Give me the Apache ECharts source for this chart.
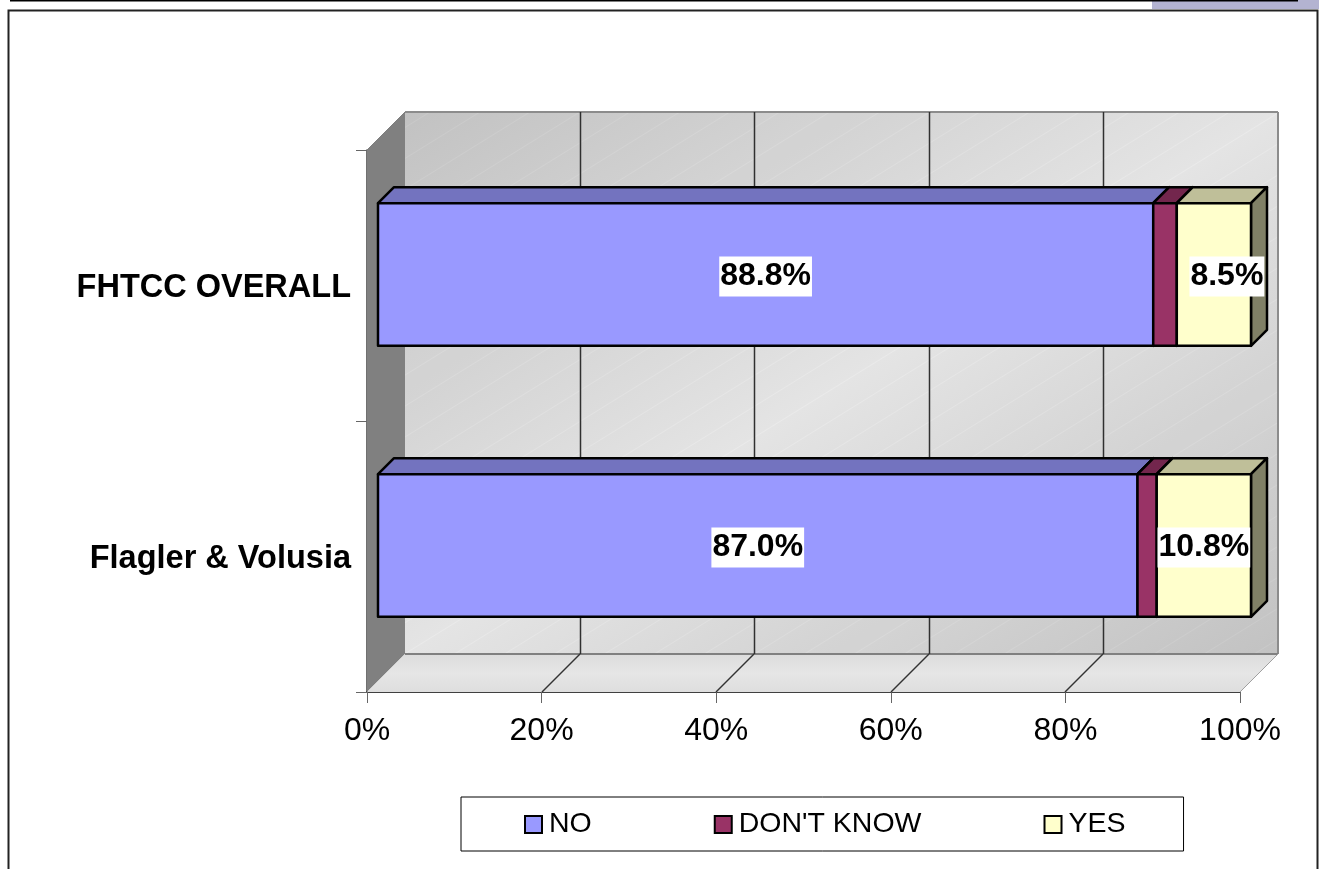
<!DOCTYPE html>
<html>
<head>
<meta charset="utf-8">
<title>FHTCC chart</title>
<style>
  html, body { margin: 0; padding: 0; background: #fff; overflow: hidden; }
  #main { width: 1319px; height: 869px; }
</style>
<script src="https://cdn.jsdelivr.net/npm/echarts@6/dist/echarts.min.js"></script>
</head>
<body>
<div id="main"></div>
<script>
var categories = ['FHTCC OVERALL', 'Flagler & Volusia'];
var noValues = [88.8, 87.0];
var dontKnowValues = [2.7, 2.2];
var yesValues = [8.5, 10.8];
var xTicks = [0, 20, 40, 60, 80, 100];

var FONT = '"Liberation Sans", Arial, sans-serif';
var WALL = 38;      // depth of the whole 3d box
var BAR_FRONT = 11; // gap between the box front and the bar front
var BAR_DEPTH = 16;

// light band runs bottom-left to top-right, with faint hatch lines across it
function wallStops() {
    var stops = [], count = 35, i;
    function grey(t) {
        return Math.round(0xc2 + (0xe4 - 0xc2) * (1 - Math.abs(2 * t - 1)));
    }
    function css(c) { return 'rgb(' + c + ',' + c + ',' + c + ')'; }
    for (i = 0; i < count; i++) {
        var a = i / count, b = (i + 1) / count, mid = (a + b) / 2;
        stops.push({ offset: a, color: css(grey(a)) });
        stops.push({ offset: mid - 0.001, color: css(grey(mid)) });
        stops.push({ offset: mid, color: css(Math.min(grey(mid) + 6, 255)) });
        stops.push({ offset: mid + 0.001, color: css(grey(mid)) });
    }
    stops.push({ offset: 1, color: css(grey(1)) });
    return stops;
}

// color.lift only ever lightens, so darken by hand
function darken(color, k) {
    var c = echarts.color.parse(color);
    return 'rgb(' + Math.round(c[0] * k) + ',' + Math.round(c[1] * k) + ',' + Math.round(c[2] * k) + ')';
}

function poly(points, fill, stroke, width) {
    return {
        type: 'polygon',
        shape: { points: points },
        style: { fill: fill, stroke: stroke || null, lineWidth: width || 0, lineJoin: 'round' }
    };
}

function line(x1, y1, x2, y2, color, width) {
    return {
        type: 'line',
        shape: { x1: x1, y1: y1, x2: x2, y2: y2 },
        style: { stroke: color, lineWidth: width || 1 }
    };
}

function renderFrame(params, api) {
    var c = params.coordSys;
    var l = c.x, t = c.y, r = c.x + c.width, b = c.y + c.height;
    var wallGrad = new echarts.graphic.LinearGradient(l + WALL, t - WALL, 890, 895, wallStops(), true);
    var floorGrad = new echarts.graphic.LinearGradient(0, 0, 0, 1, [
        { offset: 0, color: '#dcdcdc' },
        { offset: 0.5, color: '#e6e6e6' },
        { offset: 1, color: '#dedede' }
    ]);
    var children = [
        poly([[l + WALL, t - WALL], [r + WALL, t - WALL], [r + WALL, b - WALL], [l + WALL, b - WALL]], wallGrad),
        poly([[l, t], [l + WALL, t - WALL], [l + WALL, b - WALL], [l, b]], '#808080'),
        poly([[l, b], [l + WALL, b - WALL], [r + WALL, b - WALL], [r, b]], floorGrad),
        line(l, t, l + WALL, t - WALL, '#808080', 1),
        line(l + WALL, t - WALL, r + WALL, t - WALL, '#8c8c8c', 2),
        line(r + WALL, t - WALL, r + WALL, b - WALL, '#8c8c8c', 2),
        line(l + WALL, b - WALL, r + WALL, b - WALL, '#808080', 2),
        line(r + WALL, b - WALL, r, b, '#a0a0a0', 1)
    ];
    xTicks.slice(1, -1).forEach(function (v) {
        var x = Math.round(api.coord([v, 0])[0]);
        children.push(line(x + WALL + 0.5, t - WALL, x + WALL + 0.5, b - WALL, '#303030', 1.5));
        children.push(line(x + WALL, b - WALL, x, b, '#333333', 1.5));
    });
    return { type: 'group', children: children };
}

function renderBar(params, api) {
    var start = api.value(0), size = api.value(1), cat = api.value(2);
    var color = api.visual('color');
    var h = api.size([0, 1])[1] / 1.9;
    var cy = api.coord([0, cat])[1] - BAR_FRONT;
    var x0 = api.coord([start, cat])[0] + BAR_FRONT;
    var x1 = api.coord([start + size, cat])[0] + BAR_FRONT;
    var y0 = cy - h / 2, y1 = cy + h / 2, d = BAR_DEPTH;
    var children = [
        poly([[x0, y0], [x0 + d, y0 - d], [x1 + d, y0 - d], [x1, y0]], darken(color, 0.75), '#000', 2.5),
        poly([[x1, y0], [x1 + d, y0 - d], [x1 + d, y1 - d], [x1, y1]], darken(color, 0.5), '#000', 2.5),
        poly([[x0, y0], [x1, y0], [x1, y1], [x0, y1]], color, '#000', 2.5)
    ];
    if (api.value(3)) {
        children.push({
            type: 'text',
            style: {
                text: size.toFixed(1) + '%',
                x: (x0 + x1) / 2 + api.value(3) - 1,
                y: cy + 2,
                align: 'center',
                verticalAlign: 'middle',
                fontFamily: FONT,
                fontSize: 32,
                fontWeight: 'bold',
                fill: '#000',
                backgroundColor: '#fff',
                padding: [4, 1, 4, 1]
            }
        });
    }
    return { type: 'group', children: children };
}

// [start, size, category, label shift (0 = no label)]
function stackData(values, below, labelled, shift) {
    return values.map(function (v, i) {
        var start = 0;
        below.forEach(function (arr) { start += arr[i]; });
        return [start, v, i, labelled ? (shift[i] || 1) : 0];
    });
}

function barSeries(name, color, values, below, labelled, shift) {
    return {
        name: name,
        type: 'custom',
        coordinateSystem: 'cartesian2d',
        clip: false,
        renderItem: renderBar,
        itemStyle: { color: color, borderColor: '#000', borderWidth: 2 },
        encode: { x: 0, y: 2 },
        data: stackData(values, below, labelled, shift || [])
    };
}

var myChart = echarts.init(document.getElementById('main'), null, { renderer: 'canvas' });

myChart.setOption({
    animation: false,
    backgroundColor: '#fff',
    grid: { left: 367, top: 150, width: 873, height: 542, containLabel: false },
    xAxis: {
        type: 'value',
        min: 0,
        max: 100,
        interval: 20,
        axisLine: { show: true, lineStyle: { color: '#404040', width: 2 } },
        axisTick: { show: true, length: 11, lineStyle: { color: '#666', width: 1 } },
        splitLine: { show: false },
        axisLabel: {
            formatter: function (v) { return v + '%'; },
            fontFamily: FONT,
            fontSize: 32,
            color: '#000',
            margin: 23
        }
    },
    yAxis: {
        type: 'category',
        inverse: true,
        data: categories,
        axisLine: { show: true, lineStyle: { color: '#404040', width: 1.5 } },
        axisTick: { show: true, length: 11, alignWithLabel: false, lineStyle: { color: '#666', width: 1 } },
        axisLabel: {
            fontFamily: FONT,
            fontSize: 32.5,
            fontWeight: 'bold',
            color: '#000',
            margin: 16,
            verticalAlign: 'top',
            lineHeight: 5
        }
    },
    legend: {
        left: 461,
        top: 797,
        orient: 'horizontal',
        padding: [13, 58, 12, 63],
        backgroundColor: '#fff',
        borderColor: '#000',
        borderWidth: 1,
        borderRadius: 0,
        itemGap: 122,
        itemWidth: 17,
        itemHeight: 17,
        icon: 'rect',
        data: ['NO', "DON'T KNOW", 'YES'],
        textStyle: { fontFamily: FONT, fontSize: 28.5, color: '#000', padding: [0, 0, 0, 2] }
    },
    graphic: [
        { type: 'rect', z: -10, shape: { x: 1152, y: 0, width: 167, height: 9 }, style: { fill: '#b3b3d1' } },
        { type: 'line', z: -9, shape: { x1: 10, y1: 0.5, x2: 1298, y2: 0.5 }, style: { stroke: '#000', lineWidth: 2 } },
        { type: 'polyline', z: -9, shape: { points: [[8.5, 869], [8.5, 10.5], [1317.5, 10.5], [1317.5, 869]] }, style: { fill: null, stroke: '#222', lineWidth: 2 } }
    ],
    series: [
        {
            name: 'frame',
            type: 'custom',
            coordinateSystem: 'cartesian2d',
            clip: false,
            silent: true,
            z: 1,
            renderItem: renderFrame,
            encode: { x: 0, y: 1 },
            data: [[0, 0]]
        },
        Object.assign(barSeries('NO', '#9999ff', noValues, [], true), { z: 2 }),
        Object.assign(barSeries("DON'T KNOW", '#993366', dontKnowValues, [noValues], false), { z: 3 }),
        Object.assign(barSeries('YES', '#ffffcc', yesValues, [noValues, dontKnowValues], true, [14, 0]), { z: 4 })
    ]
});
</script>
</body>
</html>
